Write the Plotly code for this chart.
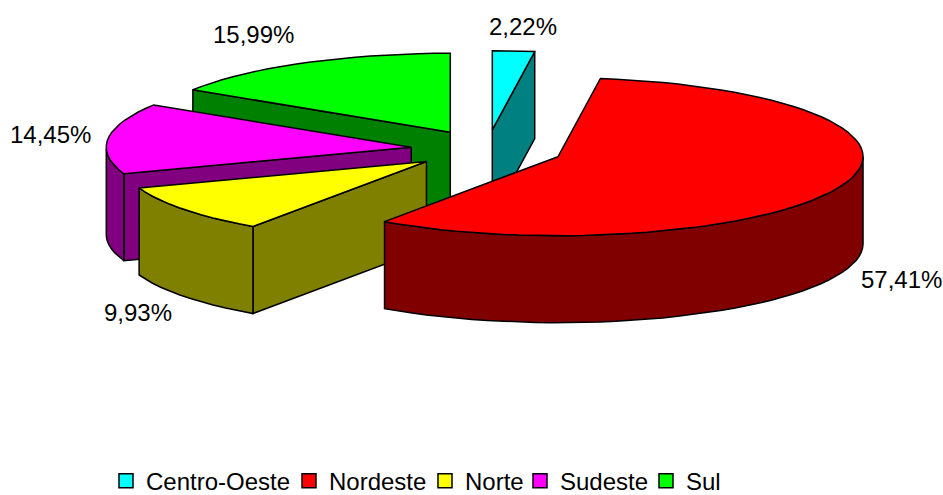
import math
import plotly.graph_objects as go

# Data
categories = ["Centro-Oeste", "Nordeste", "Norte", "Sudeste", "Sul"]
values = [2.22, 57.41, 9.93, 14.45, 15.99]
labels = ["2,22%", "57,41%", "9,93%", "14,45%", "15,99%"]
top_colors = ["#00FFFF", "#FF0000", "#FFFF00", "#FF00FF", "#00FF00"]
side_colors = ["#008080", "#800000", "#808000", "#800080", "#008000"]

# Projection of the tilted pie (page pixels)
CX, CY, A, B, DEPTH, EXPLODE = 487.0, 149.5, 305.0, 79.0, 87.0, 0.25
START_DEG = 0.0
draw_order = ["Centro-Oeste", "Sul", "Sudeste", "Norte", "Nordeste"]
label_xy = {"Centro-Oeste": (523, 26), "Nordeste": (901, 279), "Norte": (138, 312),
            "Sudeste": (50, 134), "Sul": (253, 34)}
LABEL_SIZE = 24
LEGEND_SIZE = 24
FONT = "Liberation Sans, Arial, sans-serif"

total = sum(values)
spans = {}
acc = START_DEG
for c, v in zip(categories, values):
    spans[c] = (acc, acc + v / total * 360)
    acc += v / total * 360


def pt(ax, ay, deg):
    r = math.radians(deg)
    return ax + A * math.sin(r), ay - B * math.cos(r)


fig = go.Figure()


def poly(pts, fill):
    xs = [p[0] for p in pts] + [pts[0][0]]
    ys = [p[1] for p in pts] + [pts[0][1]]
    fig.add_trace(go.Scatter(x=xs, y=ys, mode="lines", fill="toself", fillcolor=fill,
                             line=dict(color="black", width=1.5), showlegend=False,
                             hoverinfo="skip"))


for c in draw_order:
    i = categories.index(c)
    a0, a1 = spans[c]
    mid = math.radians((a0 + a1) / 2)
    ax = CX + EXPLODE * A * math.sin(mid)
    ay = CY - EXPLODE * B * math.cos(mid)
    n = max(3, int((a1 - a0) / 3))
    arc_deg = [a0 + (a1 - a0) * k / n for k in range(n + 1)]
    arc = [pt(ax, ay, d) for d in arc_deg]
    # clockwise outline of the top face
    outline = [(ax, ay)] + arc
    # straight cut faces first, then the visible rim
    for p, q in [(outline[0], outline[1]), (outline[-1], outline[0])]:
        if q[0] < p[0] - 1e-6:
            poly([p, q, (q[0], q[1] + DEPTH), (p[0], p[1] + DEPTH)], side_colors[i])
    rim = [k for k in range(n) if arc[k + 1][0] < arc[k][0]]
    if rim:
        seq = arc[rim[0]:rim[-1] + 2]
        poly(seq + [(x, y + DEPTH) for x, y in reversed(seq)], side_colors[i])
    poly(outline, top_colors[i])

# Legend entries
legend_widths = [138, 91, 50, 81, 40]
for c, col, w in zip(categories, top_colors, legend_widths):
    fig.add_trace(go.Scatter(x=[None], y=[None], mode="markers", name=c,
                             legendwidth=w,
                             marker=dict(symbol="square", size=14, color=col,
                                         line=dict(color="black", width=1.5))))

for c, lab in zip(categories, labels):
    x, y = label_xy[c]
    fig.add_annotation(x=x, y=y, text=lab, showarrow=False, xanchor="center", yanchor="middle",
                       font=dict(family=FONT, size=LABEL_SIZE, color="black"))

fig.update_layout(
    width=943, height=495, margin=dict(l=0, r=0, t=0, b=0, autoexpand=False),
    paper_bgcolor="white", plot_bgcolor="white",
    xaxis=dict(range=[0, 943], visible=False, fixedrange=True),
    yaxis=dict(range=[495, 0], visible=False, fixedrange=True),
    font=dict(family=FONT, color="black"),
    legend=dict(orientation="h", xref="container", yref="container",
                x=0.1124, y=0.028, xanchor="left", yanchor="middle",
                font=dict(family=FONT, size=LEGEND_SIZE, color="black"),
                itemwidth=30, tracegroupgap=0, bgcolor="rgba(0,0,0,0)",
                traceorder="normal"),
)
fig.write_html("out.html", config={"displayModeBar": False},
               post_script="document.body.style.margin='0';document.documentElement.style.overflow='hidden';")
